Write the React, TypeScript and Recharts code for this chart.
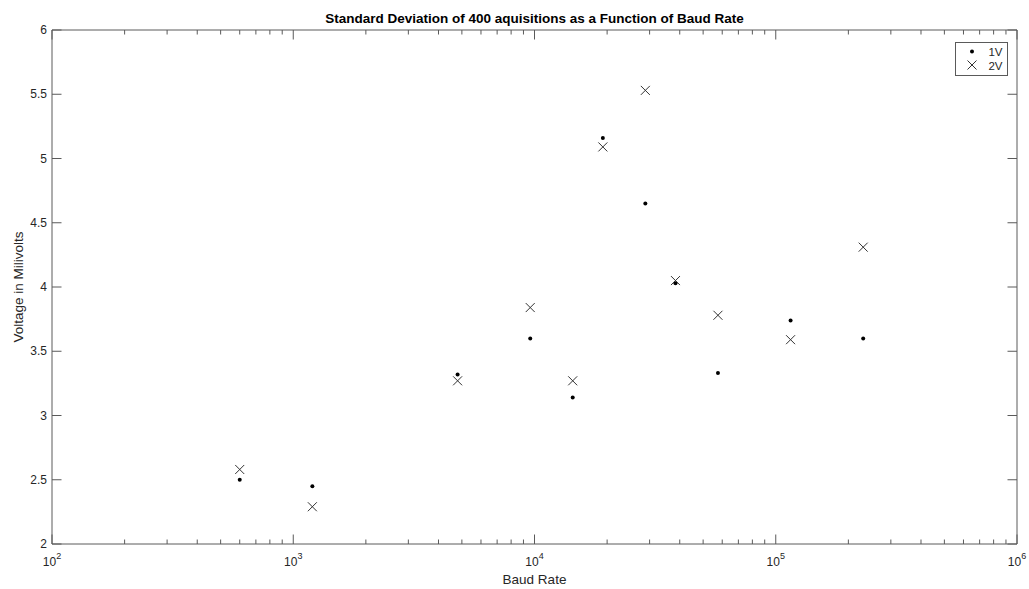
import { ScatterChart, Scatter, XAxis, YAxis, Legend, Label } from 'recharts';

// baud rates tested and the std-dev readings (mV) for each input level
const baudRates = [600, 1200, 4800, 9600, 14400, 19200, 28800, 38400, 57600, 115200, 230400];
const std1V = [2.5, 2.45, 3.32, 3.6, 3.14, 5.16, 4.65, 4.03, 3.33, 3.74, 3.6];
const std2V = [2.58, 2.29, 3.27, 3.84, 3.27, 5.09, 5.53, 4.05, 3.78, 3.59, 4.31];

const decades = [100, 1000, 10000, 100000, 1000000];
const minorSteps = [2, 3, 4, 5, 6, 7, 8, 9];
const yTicks = [2, 2.5, 3, 3.5, 4, 4.5, 5, 5.5, 6];

const xTicks: number[] = [];
decades.forEach((d, i) => {
  xTicks.push(d);
  if (i < decades.length - 1) minorSteps.forEach((m) => xTicks.push(d * m));
});

const series1 = baudRates.map((b, i) => ({ baud: b, v: std1V[i] }));
const series2 = baudRates.map((b, i) => ({ baud: b, v: std2V[i] }));

const AXIS = '#5a5a5a';
const TEXT = '#262626';
const FONT = 'Arial, "Liberation Sans", Helvetica, sans-serif';
const MAJOR = 9.5;
const MINOR = 4.5;

function isDecade(v: number) {
  const e = Math.log10(v);
  return Math.abs(e - Math.round(e)) < 1e-9;
}

function BottomTick({ x, y, payload }: any) {
  const v = payload.value;
  const major = isDecade(v);
  return (
    <g>
      <line x1={x} x2={x} y1={y} y2={y - (major ? MAJOR : MINOR)} stroke={AXIS} />
      {major && (
        <text x={x} y={y + 22} textAnchor="middle" fontSize={12} fill={TEXT} fontFamily={FONT}>
          10
          <tspan dy={-7} fontSize={9}>
            {Math.round(Math.log10(v))}
          </tspan>
        </text>
      )}
    </g>
  );
}

function TopTick({ x, y, payload }: any) {
  const major = isDecade(payload.value);
  return <line x1={x} x2={x} y1={y} y2={y + (major ? MAJOR : MINOR)} stroke={AXIS} />;
}

function LeftTick({ x, y, payload }: any) {
  return (
    <g>
      <line x1={x} x2={x + MAJOR} y1={y} y2={y} stroke={AXIS} />
      <text x={x - 5} y={y + 4} textAnchor="end" fontSize={12} fill={TEXT} fontFamily={FONT}>
        {payload.value}
      </text>
    </g>
  );
}

function RightTick({ x, y }: any) {
  return <line x1={x} x2={x - MAJOR} y1={y} y2={y} stroke={AXIS} />;
}

function DotMark({ cx, cy }: any) {
  return <circle cx={cx} cy={cy} r={2} fill="#000" />;
}

function CrossMark({ cx, cy }: any) {
  const s = 4.5;
  return (
    <path
      d={`M${cx - s},${cy - s}L${cx + s},${cy + s}M${cx - s},${cy + s}L${cx + s},${cy - s}`}
      stroke="#333"
      strokeWidth={1}
      fill="none"
    />
  );
}

function Hidden() {
  return <g />;
}

function LegendBox() {
  return (
    <svg width={53} height={34} style={{ display: 'block' }}>
      <rect x={0.5} y={0.5} width={52} height={33} fill="#fff" stroke={AXIS} />
      <circle cx={17} cy={9.5} r={2} fill="#000" />
      <text x={47.5} y={14} textAnchor="end" fontSize={11.5} fill={TEXT} fontFamily={FONT}>
        1V
      </text>
      <path d="M12.5,18.5L21.5,27.5M12.5,27.5L21.5,18.5" stroke="#333" fill="none" />
      <text x={47.5} y={27.5} textAnchor="end" fontSize={11.5} fill={TEXT} fontFamily={FONT}>
        2V
      </text>
    </svg>
  );
}

export default function App() {
  return (
    <div style={{ position: 'absolute', left: 0, top: 0, background: '#fff' }}>
      <ScatterChart width={1029} height={589} margin={{ top: 0, right: 0, bottom: 0, left: 0 }}>
        <XAxis
          xAxisId="bottom"
          dataKey="baud"
          type="number"
          scale="log"
          domain={[100, 1000000]}
          allowDataOverflow
          ticks={xTicks}
          interval={0}
          height={45}
          tickSize={0}
          tickMargin={0}
          tickLine={false}
          axisLine={{ stroke: AXIS }}
          tick={<BottomTick />}
        >
          <Label
            content={({ viewBox }: any) => (
              <text
                x={viewBox.x + viewBox.width / 2}
                y={viewBox.y + 40}
                textAnchor="middle"
                fontSize={13.5}
                fill={TEXT}
                fontFamily={FONT}
              >
                Baud Rate
              </text>
            )}
          />
        </XAxis>
        <XAxis
          xAxisId="top"
          orientation="top"
          dataKey="baud"
          type="number"
          scale="log"
          domain={[100, 1000000]}
          allowDataOverflow
          ticks={xTicks}
          interval={0}
          height={30}
          tickSize={0}
          tickMargin={0}
          tickLine={false}
          axisLine={{ stroke: AXIS }}
          tick={<TopTick />}
        >
          <Label
            content={({ viewBox }: any) => (
              <text
                x={viewBox.x + viewBox.width / 2}
                y={23}
                textAnchor="middle"
                fontSize={13.5}
                fontWeight="bold"
                fill="#000"
                fontFamily={FONT}
              >
                Standard Deviation of 400 aquisitions as a Function of Baud Rate
              </text>
            )}
          />
        </XAxis>
        <YAxis
          yAxisId="left"
          dataKey="v"
          type="number"
          domain={[2, 6]}
          allowDataOverflow
          ticks={yTicks}
          interval={0}
          width={52}
          tickSize={0}
          tickMargin={0}
          tickLine={false}
          axisLine={{ stroke: AXIS }}
          tick={<LeftTick />}
        >
          <Label
            content={({ viewBox }: any) => {
              const cx = 18;
              const cy = viewBox.y + viewBox.height / 2;
              return (
                <text
                  x={cx}
                  y={cy}
                  transform={`rotate(-90 ${cx} ${cy})`}
                  textAnchor="middle"
                  dominantBaseline="central"
                  fontSize={13.5}
                  fill={TEXT}
                  fontFamily={FONT}
                >
                  Voltage in Milivolts
                </text>
              );
            }}
          />
        </YAxis>
        <YAxis
          yAxisId="right"
          orientation="right"
          dataKey="v"
          type="number"
          domain={[2, 6]}
          allowDataOverflow
          ticks={yTicks}
          interval={0}
          width={12}
          tickSize={0}
          tickMargin={0}
          tickLine={false}
          axisLine={{ stroke: AXIS }}
          tick={<RightTick />}
        />
        <Scatter
          name="hidden"
          data={series1}
          xAxisId="top"
          yAxisId="right"
          shape={<Hidden />}
          legendType="none"
          isAnimationActive={false}
        />
        <Scatter
          name="1V"
          data={series1}
          xAxisId="bottom"
          yAxisId="left"
          shape={<DotMark />}
          isAnimationActive={false}
        />
        <Scatter
          name="2V"
          data={series2}
          xAxisId="bottom"
          yAxisId="left"
          shape={<CrossMark />}
          isAnimationActive={false}
        />
        <Legend
          layout="vertical"
          align="center"
          verticalAlign="middle"
          content={() => <LegendBox />}
          wrapperStyle={{ position: 'absolute', left: 955, top: 41.5, width: 53, height: 34, margin: 0 }}
        />
      </ScatterChart>
    </div>
  );
}
